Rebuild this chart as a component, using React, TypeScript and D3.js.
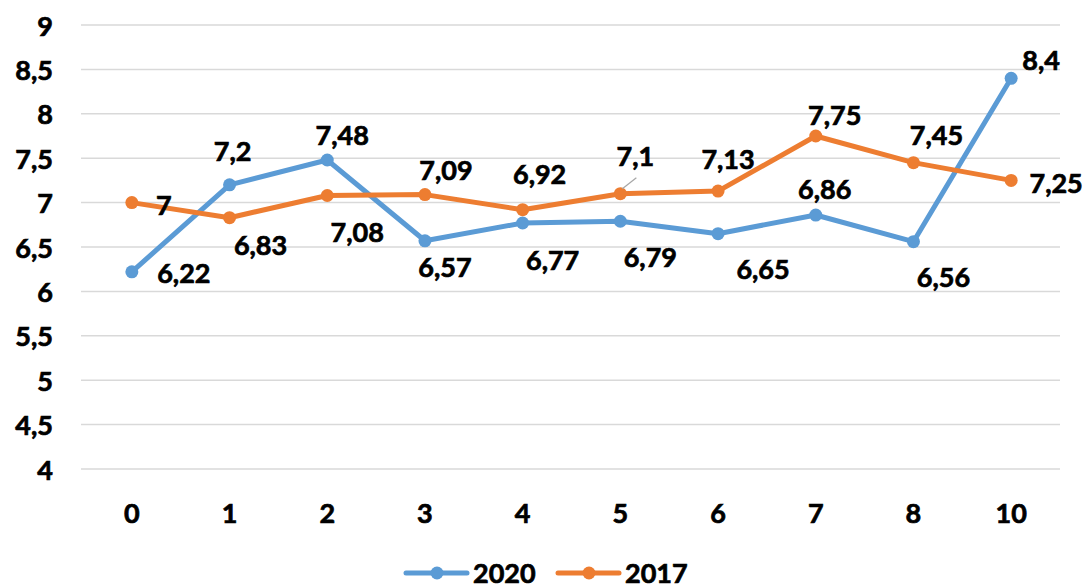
import React from "react";
import * as d3 from "d3";

const categories = ["0", "1", "2", "3", "4", "5", "6", "7", "8", "10"];
const values2020 = [6.22, 7.2, 7.48, 6.57, 6.77, 6.79, 6.65, 6.86, 6.56, 8.4];
const values2017 = [7, 6.83, 7.08, 7.09, 6.92, 7.1, 7.13, 7.75, 7.45, 7.25];
const yTicks = [4, 4.5, 5, 5.5, 6, 6.5, 7, 7.5, 8, 8.5, 9];

// label placement offsets (dx, dy) relative to each point
const labelOffsets2020: [number, number][] = [
  [52, 1], [3, -34], [15, -25], [20, 26], [30, 36], [30, 35], [45, 35], [9, -27], [30, 35], [30, -19],
];
const labelOffsets2017: [number, number][] = [
  [32, 2], [31, 27], [30, 36], [21, -25], [17, -36], [15, -38], [10, -33], [19, -22], [23, -28], [45, 2],
];

const W = 1088;
const H = 587;
const BLUE = "#5B9BD5";
const ORANGE = "#ED7D31";
const FONT = "Lato, 'Liberation Sans', sans-serif";

const fmt = (v: number) => String(v).replace(".", ",");

export default function App() {
  const x = d3.scalePoint<string>().domain(categories).range([83, 1060]).padding(0.5);
  const y = d3.scaleLinear().domain([4, 9]).range([469, 25]);
  const line = d3
    .line<number>()
    .x((_, i) => x(categories[i]) as number)
    .y((d) => y(d));

  const series = [
    { name: "2020", values: values2020, color: BLUE, offsets: labelOffsets2020 },
    { name: "2017", values: values2017, color: ORANGE, offsets: labelOffsets2017 },
  ];

  const textStyle = {
    fontFamily: FONT,
    fontWeight: 700,
    fontSize: 27,
    fill: "#000",
    stroke: "#000",
    strokeWidth: 0.7,
  } as React.CSSProperties;

  return (
    <svg
      width={W}
      height={H}
      style={{ position: "absolute", left: 0, top: 0, background: "#fff" }}
    >
      <rect x={0} y={0} width={W} height={H} fill="#fff" />
      {yTicks.map((t) => (
        <g key={t}>
          <line x1={81} x2={1060} y1={y(t)} y2={y(t)} stroke="#d9d9d9" strokeWidth={1.5} />
          <text
            x={53}
            y={y(t)}
            textAnchor="end"
            dominantBaseline="central"
            style={textStyle}
          >
            {fmt(t)}
          </text>
        </g>
      ))}
      {categories.map((c) => (
        <text
          key={c}
          x={x(c)}
          y={512}
          textAnchor="middle"
          dominantBaseline="central"
          style={textStyle}
        >
          {c}
        </text>
      ))}
      {series.map((s) => (
        <g key={s.name}>
          <path
            d={line(s.values) || ""}
            fill="none"
            stroke={s.color}
            strokeWidth={5}
            strokeLinejoin="round"
            strokeLinecap="round"
          />
          {s.values.map((v, i) => (
            <circle key={i} cx={x(categories[i])} cy={y(v)} r={6.5} fill={s.color} />
          ))}
        </g>
      ))}
      {/* leader line for 2017 value at category 5 */}
      <line
        x1={(x(categories[5]) as number) + 2}
        y1={y(values2017[5]) - 5}
        x2={(x(categories[5]) as number) + 16}
        y2={y(values2017[5]) - 16}
        stroke="#a6a6a6"
        strokeWidth={1.2}
      />
      {series.map((s) =>
        s.values.map((v, i) => (
          <text
            key={s.name + i}
            x={(x(categories[i]) as number) + s.offsets[i][0]}
            y={y(v) + s.offsets[i][1]}
            textAnchor="middle"
            dominantBaseline="central"
            style={textStyle}
          >
            {fmt(v)}
          </text>
        ))
      )}
      {/* legend */}
      {series.map((s, k) => {
        const lx = 406 + k * 152;
        const ly = 573;
        return (
          <g key={"lg" + s.name}>
            <line x1={lx} x2={lx + 61} y1={ly} y2={ly} stroke={s.color} strokeWidth={5} strokeLinecap="round" />
            <circle cx={lx + 31} cy={ly} r={6.5} fill={s.color} />
            <text x={lx + 67} y={ly - 1} dominantBaseline="central" style={textStyle}>
              {s.name}
            </text>
          </g>
        );
      })}
    </svg>
  );
}
